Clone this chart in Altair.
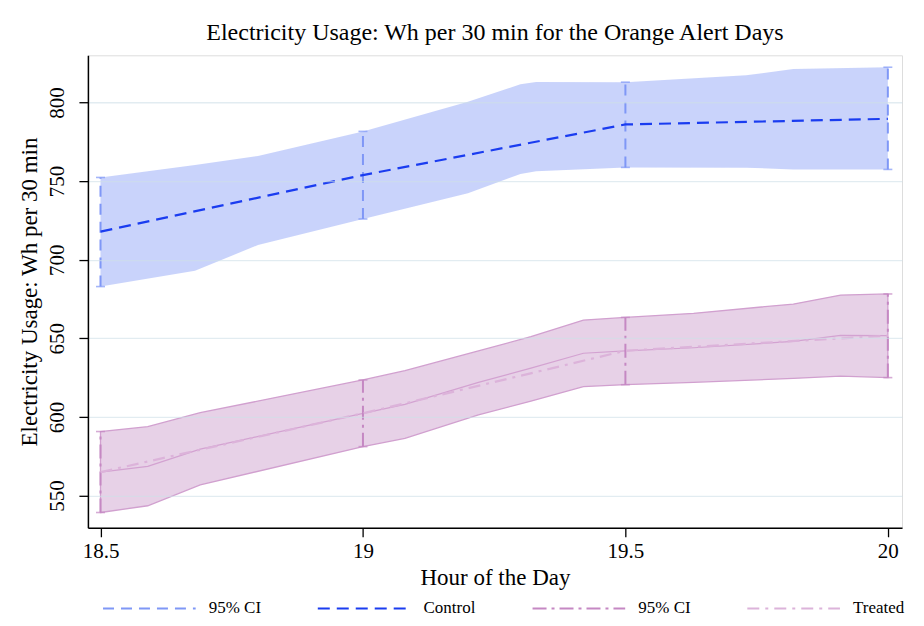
import altair as alt
import pandas as pd

# Point estimates and 95% CI at the half-hour marks
hours = [18.5, 19.0, 19.5, 20.0]
control_mean = [717.8, 753.8, 786.0, 789.6]
control_lo = [682.9, 725.9, 758.7, 757.4]
control_hi = [752.3, 781.6, 812.9, 822.4]
treated_mean = [564.9, 602.3, 642.1, 651.7]
treated_lo = [539.2, 581.1, 620.5, 625.0]
treated_hi = [590.7, 623.5, 663.3, 678.2]

# Shaded CI bands
cband_hours = [18.5, 18.68, 18.8, 19.0, 19.2, 19.3, 19.33, 19.5, 19.73, 19.82, 20.0]
cband_hi = [752.3, 760.2, 766.0, 781.6, 800.4, 811.6, 813.0, 812.9, 817.3, 821.2, 822.4]
cband_lo = [682.9, 693.0, 709.3, 725.9, 742.2, 754.5, 756.3, 758.7, 758.5, 757.4, 757.4]

tband_hours = [18.5, 18.59, 18.69, 19.0, 19.08, 19.22, 19.32, 19.42, 19.5, 19.63, 19.82, 19.91, 20.0]
tband_hi = [590.7, 593.8, 602.7, 623.5, 629.4, 642.0, 651.0, 661.6, 663.3, 665.9, 671.8, 677.5, 678.2]
tband_lo = [539.2, 543.5, 556.8, 581.1, 586.4, 601.3, 610.0, 619.3, 620.5, 622.0, 624.5, 626.0, 625.0]
tband_mid = [564.9, 568.5, 579.5, 602.3, 608.0, 622.0, 631.0, 640.5, 642.0, 644.0, 648.0, 651.8, 651.7]

series_domain = ["ci_c", "Control", "ci_t", "Treated"]
series_colors = ["#7f97f6", "#1a3cf0", "#c588c3", "#dcb3da"]
series_dashes = [[11, 7], [12, 7], [14, 5, 3, 5], [12, 6, 3, 6]]

FONT = "Liberation Serif"

cband = pd.DataFrame({"hour": cband_hours, "lo": cband_lo, "hi": cband_hi})
tband = pd.DataFrame({"hour": tband_hours, "lo": tband_lo, "hi": tband_hi, "mid": tband_mid})

ci = pd.DataFrame({
    "hour": hours + hours,
    "lo": control_lo + treated_lo,
    "hi": control_hi + treated_hi,
    "series": ["ci_c"] * 4 + ["ci_t"] * 4,
})
means = pd.DataFrame({
    "hour": hours + hours,
    "value": control_mean + treated_mean,
    "series": ["Control"] * 4 + ["Treated"] * 4,
})

xscale = alt.Scale(domain=[18.476, 20.027], nice=False, zero=False)
yscale = alt.Scale(domain=[529.5, 830], nice=False, zero=False)

xax = alt.Axis(values=hours, format="~g", title="Hour of the Day", grid=False,
              labelFont=FONT, labelFontSize=21, titleFont=FONT, titleFontSize=23,
              titleFontWeight="normal", labelColor="black", titleColor="black",
              domainColor="black", tickColor="black", domainWidth=1.5, tickWidth=1.3,
              tickSize=9, labelPadding=4, titlePadding=5, zindex=1)
yax = alt.Axis(values=[550, 600, 650, 700, 750, 800], title="Electricity Usage: Wh per 30 min",
              grid=True, gridColor="#cfe0e8", gridOpacity=0.6, gridWidth=1.3,
              labelAngle=270, labelAlign="center", labelBaseline="bottom",
              labelFont=FONT, labelFontSize=21, titleFont=FONT, titleFontSize=23,
              titleFontWeight="normal", labelColor="black", titleColor="black",
              domainColor="black", tickColor="black", domainWidth=1.5, tickWidth=1.3,
              tickSize=9, labelPadding=11, titlePadding=5, zindex=1)

x = alt.X("hour:Q", scale=xscale, axis=xax)

legend = alt.Legend(
    orient="none", legendX=14, legendY=506, direction="horizontal", columns=4,
    symbolType="stroke", symbolSize=8600, symbolStrokeWidth=2, title=None,
    labelFont=FONT, labelFontSize=17, labelColor="black", columnPadding=52,
    gridAlign="all", labelOffset=12, labelBaseline="middle",
    labelExpr="indexof(datum.label, 'ci') == 0 ? '95% CI' : datum.label",
)
color = alt.Color("series:N", scale=alt.Scale(domain=series_domain, range=series_colors), legend=legend)
dash = alt.StrokeDash("series:N", scale=alt.Scale(domain=series_domain, range=series_dashes), legend=legend)

c_area = alt.Chart(cband).mark_area(color="#c6d1fb", opacity=0.95).encode(
    x=x, y=alt.Y("lo:Q", scale=yscale, axis=yax), y2="hi:Q")
t_area = alt.Chart(tband).mark_area(fill="#e6cfe6", stroke="#cf9bcd", strokeWidth=1.3, opacity=0.95).encode(
    x="hour:Q", y="lo:Q", y2="hi:Q")
t_mid = alt.Chart(tband).mark_line(color="#d3a2d1", strokeWidth=1.2).encode(
    x="hour:Q", y="mid:Q")

ci_rule = alt.Chart(ci).mark_rule(strokeWidth=2).encode(
    x="hour:Q", y="lo:Q", y2="hi:Q", color=color, strokeDash=dash)
ci_cap_lo = alt.Chart(ci).mark_tick(orient="horizontal", size=9, thickness=1.6).encode(
    x="hour:Q", y="lo:Q",
    color=alt.Color("series:N", scale=alt.Scale(domain=series_domain, range=series_colors), legend=None))
ci_cap_hi = alt.Chart(ci).mark_tick(orient="horizontal", size=9, thickness=1.6).encode(
    x="hour:Q", y="hi:Q",
    color=alt.Color("series:N", scale=alt.Scale(domain=series_domain, range=series_colors), legend=None))

mean_lines = alt.Chart(means).mark_line(strokeWidth=2.2).encode(
    x="hour:Q", y="value:Q", color=color, strokeDash=dash, detail="series:N")

chart = alt.layer(c_area, t_area, t_mid, ci_rule, ci_cap_lo, ci_cap_hi, mean_lines).properties(
    width=815, height=473,
    title=alt.TitleParams("Electricity Usage: Wh per 30 min for the Orange Alert Days",
                          font=FONT, fontSize=24, fontWeight="normal", color="black",
                          anchor="middle", offset=10),
    autosize=alt.AutoSizeParams(type="none"),
    padding={"left": 80, "top": 47, "right": 14, "bottom": 90},
).configure_view(stroke=None).configure(background="white")

chart.save("out.html", embed_options={"renderer": "svg", "actions": False})
